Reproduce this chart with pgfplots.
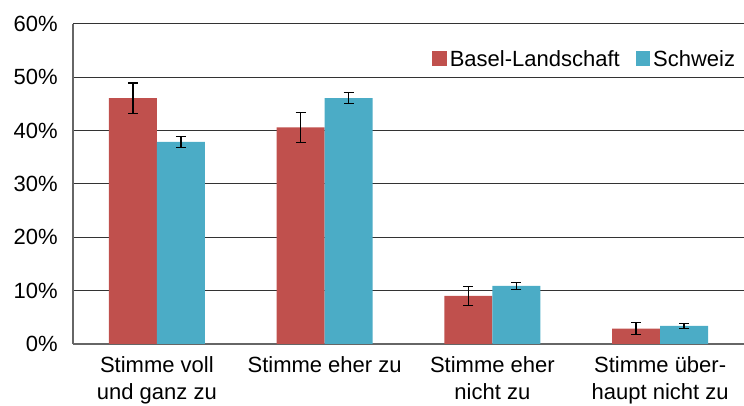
\documentclass[border=0pt]{standalone}
\usepackage{fontspec}
\setmainfont{Liberation Sans}
\usepackage{pgfplots}
\pgfplotsset{compat=1.18}
\definecolor{bred}{HTML}{C0504D}
\definecolor{bblue}{HTML}{4BACC6}
\begin{document}
\begin{tikzpicture}[font=\fontsize{16.5}{20}\selectfont]
\path[use as bounding box] (-54.75pt,-46.5pt) rectangle (503.25pt,258pt);
\begin{axis}[
  at={(0,0)}, anchor=south west,
  scale only axis, width=503.25pt, height=240pt,
  xmin=-0.5, xmax=3.5, ymin=0, ymax=60,
  ytick={0,10,...,60},
  yticklabel={\pgfmathprintnumber{\tick}\%},
  /pgf/number format/assume math mode=true,
  xtick={0,1,2,3},
  xticklabels={{Stimme voll\\und ganz zu},{Stimme eher zu},{Stimme eher\\nicht zu},{Stimme über-\\haupt nicht zu}},
  xticklabel style={align=center, yshift=-6pt},
  yticklabel style={xshift=-8pt},
  major tick length=0pt,
  axis x line*=bottom, axis y line*=left,
  axis line style={draw=black!60, line width=0.8pt},
  ymajorgrids, grid style={draw=black!80, line width=0.75pt},
  ybar=0pt, bar width=36pt,
  legend style={draw=none, fill=none, at={(0.997,0.935)}, anchor=north east, legend columns=2,
    /tikz/every even column/.append style={column sep=10pt}},
  legend image code/.code={\fill[#1] (1pt,-5pt) rectangle (12pt,6pt);},
  error bars/error bar style={line width=1pt, black},
  error bars/error mark options={rotate=90, mark size=3.75pt, line width=1pt, black},
]
\addplot[fill=bred, draw=none, error bars/.cd, y dir=both, y explicit]
  coordinates {(0,46.1) +- (0,2.85) (1,40.6) +- (0,2.85) (2,9.0) +- (0,1.75) (3,2.9) +- (0,1.1)};
\addlegendentry{Basel-Landschaft}
\addplot[fill=bblue, draw=none, error bars/.cd, y dir=both, y explicit]
  coordinates {(0,37.9) +- (0,1.0) (1,46.1) +- (0,1.05) (2,10.9) +- (0,0.65) (3,3.4) +- (0,0.5)};
\addlegendentry{Schweiz}
\end{axis}
\end{tikzpicture}
\end{document}
